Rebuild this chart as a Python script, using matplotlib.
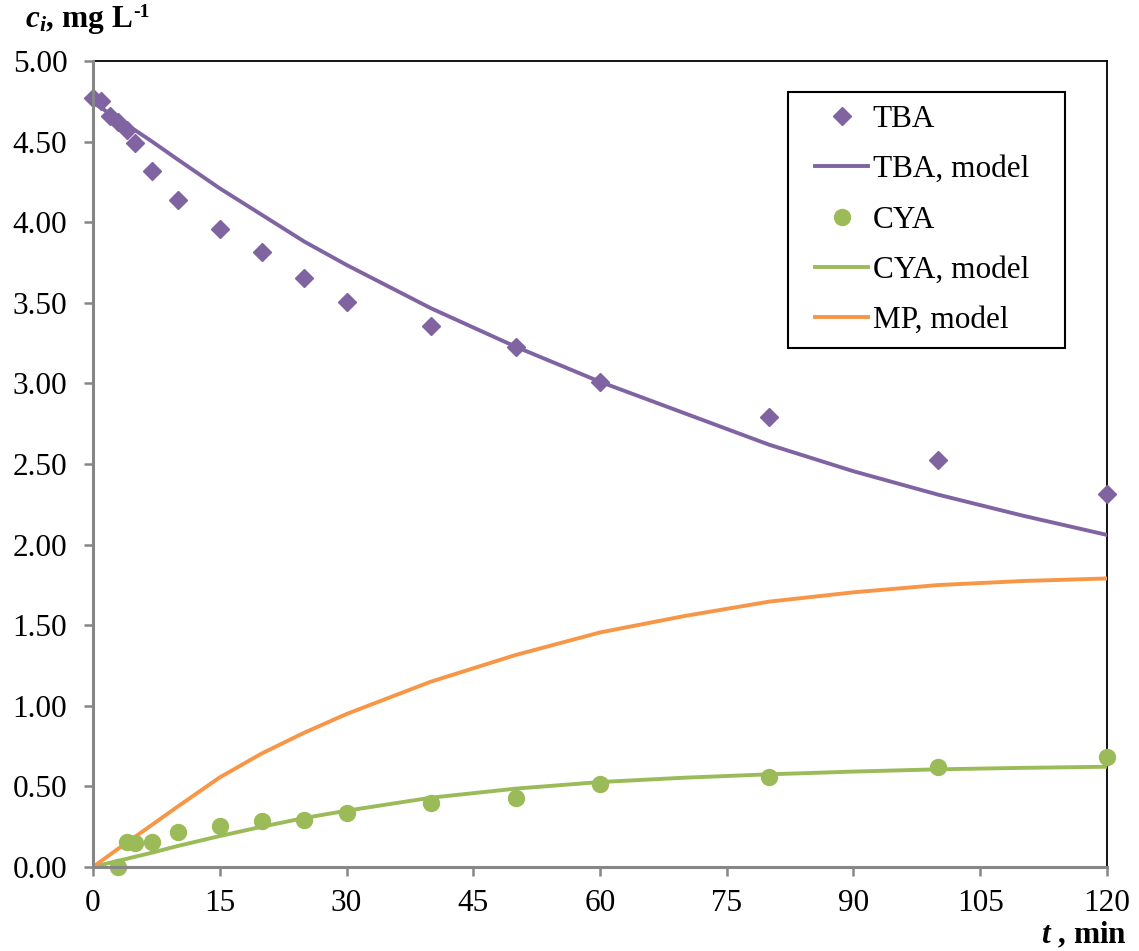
import matplotlib
matplotlib.use("Agg")
from matplotlib import pyplot as plt
from matplotlib.patches import Rectangle

plt.rcParams['font.family'] = ['Liberation Serif', 'DejaVu Serif']
plt.rcParams['mathtext.fontset'] = 'custom'
plt.rcParams['mathtext.rm'] = 'Liberation Serif'
plt.rcParams['mathtext.it'] = 'Liberation Serif:italic'
plt.rcParams['mathtext.bf'] = 'Liberation Serif:bold'
plt.rcParams['mathtext.bfit'] = 'Liberation Serif:italic:bold'

# measured data
t_data = [0, 1, 2, 3, 4, 5, 7, 10, 15, 20, 25, 30, 40, 50, 60, 80, 100, 120]
tba_data = [4.77, 4.75, 4.66, 4.62, 4.57, 4.49, 4.32, 4.14, 3.96, 3.815, 3.655,
            3.505, 3.355, 3.225, 3.01, 2.79, 2.525, 2.315]
t_cya = [3, 4, 5, 7, 10, 15, 20, 25, 30, 40, 50, 60, 80, 100, 120]
cya_data = [0.0, 0.155, 0.15, 0.155, 0.22, 0.255, 0.285, 0.29, 0.335, 0.40,
            0.43, 0.515, 0.56, 0.62, 0.68]

# model curves
t_model = [0, 1, 2, 3, 4, 5, 7, 10, 15, 20, 25, 30, 40, 50, 60, 70, 80, 90, 100, 110, 120]
tba_model = [4.74, 4.71, 4.67, 4.64, 4.60, 4.57, 4.50, 4.39, 4.21, 4.045, 3.88,
             3.735, 3.466, 3.228, 3.01, 2.815, 2.62, 2.455, 2.31, 2.18, 2.06]
cya_model = [0.0, 0.013, 0.026, 0.039, 0.051, 0.064, 0.089, 0.130, 0.192, 0.25,
             0.304, 0.349, 0.43, 0.486, 0.527, 0.554, 0.575, 0.592, 0.606, 0.615, 0.622]
mp_model = [0.0, 0.038, 0.076, 0.114, 0.151, 0.188, 0.262, 0.374, 0.556, 0.705,
            0.833, 0.949, 1.15, 1.315, 1.455, 1.557, 1.646, 1.704, 1.749, 1.774, 1.79]

purple = '#8064A2'
green = '#9BBB59'
orange = '#F79646'
gray = '#868686'
fs = 22.5
W, H = 1139, 951

fig = plt.figure(figsize=(W / 100, H / 100), dpi=100)
ax = fig.add_axes([93 / W, 1 - 867 / H, 1014 / W, 806 / H])

ax.plot(t_data, tba_data, 'D', color=purple, markersize=9.5, label='TBA', clip_on=False, zorder=4)
ax.plot(t_model, tba_model, '-', color=purple, lw=2.8, label='TBA, model', zorder=3)
ax.plot(t_cya, cya_data, 'o', color=green, markersize=11.5, label='CYA', clip_on=False, zorder=4)
ax.plot(t_model, cya_model, '-', color=green, lw=2.8, label='CYA, model', zorder=3)
ax.plot(t_model, mp_model, '-', color=orange, lw=2.8, label='MP, model', zorder=3)

ax.set_xlim(0, 120)
ax.set_ylim(0, 5)
ax.set_xticks(range(0, 121, 15))
ax.set_yticks([i * 0.5 for i in range(11)])
ax.set_yticklabels([f'{i * 0.5:.2f}' for i in range(11)])

for s in ['top', 'right']:
    ax.spines[s].set_color('black')
    ax.spines[s].set_linewidth(1.3)
for s in ['left', 'bottom']:
    ax.spines[s].set_color(gray)
    ax.spines[s].set_linewidth(2.2)
    ax.spines[s].set_zorder(5)
ax.tick_params(direction='out', length=6.5, width=1.8, color=gray, labelsize=fs)
ax.tick_params(axis='x', pad=9)
ax.tick_params(axis='y', pad=12)

# legend: entries placed without frame, box drawn separately (Excel-like padding)
leg = ax.legend(loc='center left', bbox_to_anchor=(815 / W, 1 - 220 / H),
                bbox_transform=fig.transFigure, fontsize=fs, frameon=False,
                handlelength=1.7, handletextpad=0.15, labelspacing=0.68,
                borderpad=0, borderaxespad=0)
fig.patches.append(Rectangle((788 / W, 1 - 348 / H), 277 / W, 256 / H,
                             transform=fig.transFigure, fill=True, facecolor='white',
                             edgecolor='black', lw=1.5, zorder=2))
ax.set_zorder(3)
ax.patch.set_alpha(0)

# axis titles
ylab = fig.text(25 / W, 1 - 27 / H, r'$\mathbfit{c}_{\mathbfit{i}}$, mg L',
                fontsize=fs, fontweight='bold', ha='left', va='baseline')
fig.canvas.draw()
bb = ylab.get_window_extent()
fig.text((bb.x1 + 1) / W, 1 - 17 / H, '-1', fontsize=14, fontweight='bold',
         ha='left', va='baseline')
fig.text(1127 / W, 1 - 943 / H, r'$\mathbfit{t}$ , min',
         fontsize=22.5, fontweight='bold', ha='right', va='baseline')

fig.savefig('out.png', dpi=100, facecolor='white')
